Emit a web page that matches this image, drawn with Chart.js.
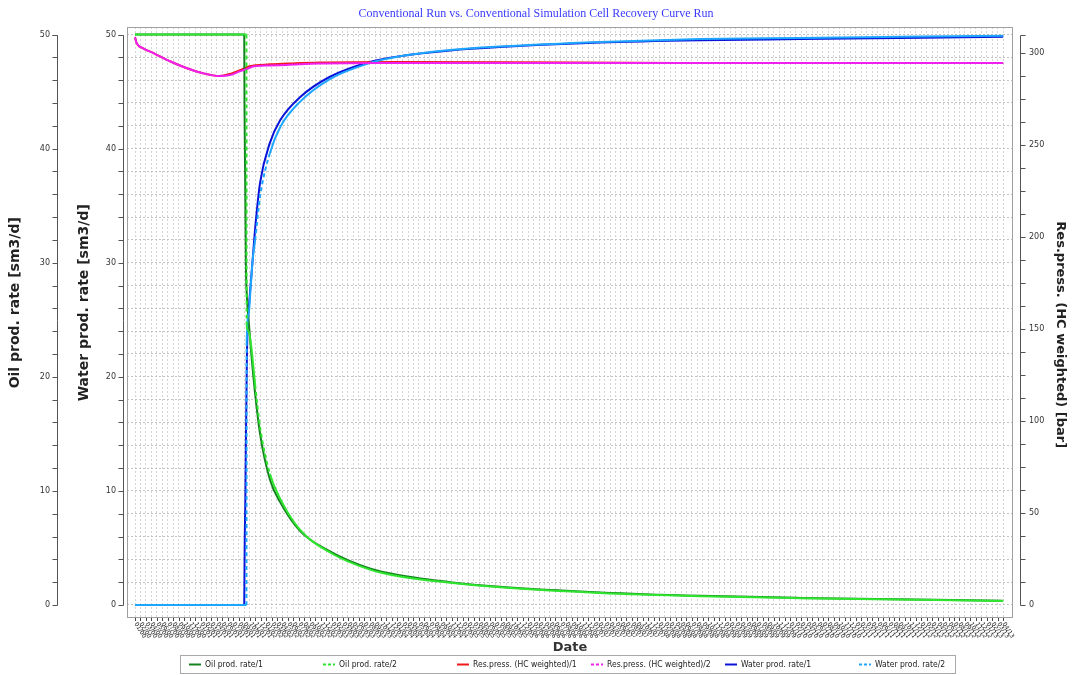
<!DOCTYPE html>
<html>
<head>
<meta charset="utf-8">
<script src="https://cdn.jsdelivr.net/npm/chart.js@4.4.1/dist/chart.umd.min.js"></script>
<style>
  html, body { margin: 0; padding: 0; background: #fff; }
  #wrap { width: 1072px; height: 675px; position: relative; }
</style>
</head>
<body>
<div id="wrap"><canvas id="c"></canvas></div>
<script>
// ---- time axis: one tick per report month ----
const firstYear = 2000;
const tickCount = 160;
const monthLabels = [];
for (let i = 0; i < tickCount; i++) {
  const m = (i % 12) + 1, y = firstYear + Math.floor(i / 12);
  monthLabels.push(String(m).padStart(2, '0') + '/' + String(y % 100).padStart(2, '0'));
}

// ---- Oil production rate [sm3/d] ----
const oil1Months = [0, 20.0, 20.05, 20.1, 20.2, 20.3, 20.5, 20.8, 21.3, 22.0, 22.9, 24.7, 26.6, 30.2, 35.7, 43.0, 48.5, 57.7, 66.8, 85.2, 103.5, 121.8, 159];
const oil1Rate   = [50, 50, 44, 41, 36, 30, 27, 25, 22, 18.5, 15, 11, 9, 6.5, 4.7, 3.2, 2.6, 2.0, 1.6, 1.1, 0.8, 0.62, 0.37];
const oil2Months = [0, 20.4, 20.45, 20.8, 21.3, 22.0, 22.9, 24.7, 26.6, 30.2, 35.7, 43.0, 48.5, 57.7, 66.8, 85.2, 103.5, 121.8, 159];
const oil2Rate   = [50, 50, 24.5, 24, 22.6, 19.3, 15.6, 11.5, 9.3, 6.6, 4.6, 3.1, 2.5, 1.95, 1.55, 1.05, 0.77, 0.6, 0.35];

// ---- Reservoir pressure, HC weighted [bar] ----
const pres1Months = [0, 0.3, 1.5, 3.3, 6.4, 9.5, 12.4, 15.5, 17.4, 19.2, 20.1, 21.0, 24.7, 27.8, 33.8, 48.4, 68, 100, 159];
const pres1Bar    = [308.5, 305.3, 302.5, 300, 295.5, 291.7, 289, 287.5, 288.6, 290.6, 291.8, 292.8, 293.8, 294.2, 294.8, 295.1, 295.0, 294.6, 294.6];
const pres2Months = [0, 0.3, 1.5, 3.3, 6.4, 9.5, 12.4, 15.5, 17.4, 19.2, 20.5, 21.6, 24.7, 27.8, 33.8, 48.4, 68, 100, 159];
const pres2Bar    = [308.5, 305.3, 302.5, 300, 295.5, 291.7, 289, 287.5, 288, 290, 291.3, 292.6, 293.2, 293.5, 294.2, 294.5, 294.6, 294.6, 294.6];

// ---- Water production rate [sm3/d] ----
const wat1Months = [0, 20.0, 20.05, 20.1, 20.2, 20.3, 20.4, 20.5, 20.7, 21.0, 21.5, 22.0, 22.9, 24.7, 26.6, 30.2, 35.7, 43.0, 48.5, 57.7, 66.8, 85.2, 103.5, 121.8, 159];
const wat1Rate   = [0, 0, 3, 6, 9, 14, 18, 22, 25, 27, 30, 33, 37, 40.5, 42.5, 44.5, 46.3, 47.6, 48.1, 48.6, 48.9, 49.3, 49.5, 49.6, 49.8];
const wat2Months = [0, 20.4, 20.45, 20.8, 21.2, 21.6, 22.0, 22.9, 24.7, 26.6, 30.2, 35.7, 43.0, 48.5, 57.7, 66.8, 85.2, 103.5, 121.8, 159];
const wat2Rate   = [0, 0, 23, 25.5, 28, 30.5, 32, 35.8, 39.6, 41.9, 44.1, 46.1, 47.5, 48.1, 48.65, 48.95, 49.35, 49.6, 49.7, 49.9];

// ---- axis ranges ----
const rateAxisTop = 50, rateMin = -1.14, rateMax = 50.66;
const presAxisTop = 310, presMin = -7.07, presMax = 314.1;
const monthMin = -1.47, monthMax = 160.8;

const pts = (xs, ys) => xs.map((x, i) => ({ x, y: ys[i] }));

// long near-vertical jumps of the second run show their dash pattern
const steepDash = ctx => {
  const dx = Math.abs(ctx.p1.x - ctx.p0.x), dy = Math.abs(ctx.p1.y - ctx.p0.y);
  return (dy > 40 && dy > 4 * dx) ? [4, 3] : undefined;
};

const seriesStyle = (label, color, dashed) => ({
  label, borderColor: color, backgroundColor: color, borderWidth: 2,
  pointRadius: 0, cubicInterpolationMode: 'monotone', fill: false,
  legendDash: dashed,
  segment: dashed ? { borderDash: steepDash } : undefined,
  order: dashed ? 0 : 1
});

const datasets = [
  Object.assign(seriesStyle('Oil prod. rate/1', '#14821e', false), { data: pts(oil1Months, oil1Rate), yAxisID: 'yOil' }),
  Object.assign(seriesStyle('Oil prod. rate/2', '#2fe52f', true), { data: pts(oil2Months, oil2Rate), yAxisID: 'yOil' }),
  Object.assign(seriesStyle('Res.press. (HC weighted)/1', '#f01818', false), { data: pts(pres1Months, pres1Bar), yAxisID: 'yP' }),
  Object.assign(seriesStyle('Res.press. (HC weighted)/2', '#f020f0', true), { data: pts(pres2Months, pres2Bar), yAxisID: 'yP' }),
  Object.assign(seriesStyle('Water prod. rate/1', '#0a14d8', false), { data: pts(wat1Months, wat1Rate), yAxisID: 'y' }),
  Object.assign(seriesStyle('Water prod. rate/2', '#1ea6ff', true), { data: pts(wat2Months, wat2Rate), yAxisID: 'y' })
];

const tickFont = { family: 'DejaVu Sans', size: 8 };

function evenTicks(step, top) {
  return scale => {
    const t = [];
    for (let v = 0; v <= top + 1e-9; v += step) t.push({ value: v });
    scale.ticks = t;
  };
}

// frame round the plot area
const plotFrame = {
  id: 'plotFrame',
  afterDatasetsDraw(chart) {
    const { ctx, chartArea: a } = chart;
    ctx.save();
    ctx.strokeStyle = '#a0a0a0';
    ctx.lineWidth = 1;
    ctx.strokeRect(Math.round(a.left) + 0.5, Math.round(a.top) + 0.5, Math.round(a.right - a.left) - 1, Math.round(a.bottom - a.top) - 1);
    ctx.restore();
  }
};

// vertical axis lines with their tick marks
const axisLines = {
  id: 'axisLines',
  afterDraw(chart) {
    const ctx = chart.ctx;
    ctx.save();
    ctx.strokeStyle = '#555';
    ctx.lineWidth = 1;
    const defs = [['yOil', rateAxisTop, -1], ['y', rateAxisTop, -1], ['yP', presAxisTop, 1]];
    for (const [id, top, side] of defs) {
      const s = chart.scales[id];
      const x = Math.round(side < 0 ? s.right - 4 : s.left + 7) + 0.5;
      const y0 = s.getPixelForValue(0), y1 = s.getPixelForValue(top);
      ctx.beginPath();
      ctx.moveTo(x, Math.round(y0) + 0.5);
      ctx.lineTo(x, Math.round(y1) + 0.5);
      const marks = s.ticks.map(t => t.value).concat([top]);
      for (const v of marks) {
        const y = Math.round(s.getPixelForValue(v)) + 0.5;
        ctx.moveTo(x, y);
        ctx.lineTo(x + side * 5, y);
      }
      ctx.stroke();
    }
    ctx.restore();
  }
};

// rotated titles of the three value axes
const axisTitles = {
  id: 'axisTitles',
  afterDraw(chart) {
    const ctx = chart.ctx;
    const mid = chart.scales.y.getPixelForValue(rateAxisTop / 2);
    const items = [
      { scale: 'yOil', text: 'Oil prod. rate [sm3/d]', dx: 15, dy: -17, size: 14, rot: -90 },
      { scale: 'y', text: 'Water prod. rate [sm3/d]', dx: 23, dy: -17, size: 14, rot: -90 },
      { scale: 'yP', text: 'Res.press. (HC weighted) [bar]', dx: 47, dy: 15, size: 13, rot: 90 }
    ];
    ctx.save();
    ctx.fillStyle = '#222';
    ctx.textAlign = 'center';
    ctx.textBaseline = 'middle';
    for (const it of items) {
      const s = chart.scales[it.scale];
      ctx.save();
      ctx.font = 'bold ' + it.size + 'px "DejaVu Sans"';
      ctx.translate(s.left + it.dx, mid + it.dy);
      ctx.rotate(it.rot * Math.PI / 180);
      ctx.fillText(it.text, 0, 0);
      ctx.restore();
    }
    ctx.restore();
  }
};

// slanted date labels under the time axis
const dateLabels = {
  id: 'dateLabels',
  afterDraw(chart) {
    const { ctx, chartArea: a } = chart;
    const s = chart.scales.x;
    ctx.save();
    ctx.strokeStyle = '#444';
    ctx.fillStyle = '#1a1a1a';
    ctx.lineWidth = 1;
    ctx.font = '6px "DejaVu Sans"';
    ctx.textBaseline = 'middle';
    ctx.textAlign = 'left';
    s.ticks.forEach((t, i) => {
      const x = Math.round(s.getPixelForValue(t.value)) + 0.5;
      ctx.beginPath();
      ctx.moveTo(x, a.bottom);
      ctx.lineTo(x, a.bottom + 3);
      ctx.stroke();
      ctx.save();
      ctx.translate(x, a.bottom + 5);
      ctx.rotate(58 * Math.PI / 180);
      ctx.fillText(monthLabels[i], 0, 0);
      ctx.restore();
    });
    ctx.restore();
  }
};

// boxed legend row at the foot
const footLegend = {
  id: 'footLegend',
  afterDraw(chart) {
    const ctx = chart.ctx;
    const left = 180, top = 655, width = 775, height = 18;
    ctx.save();
    ctx.fillStyle = '#fff';
    ctx.fillRect(left, top, width, height);
    ctx.strokeStyle = '#a8a8a8';
    ctx.lineWidth = 1;
    ctx.strokeRect(left + 0.5, top + 0.5, width, height);
    ctx.font = '8.5px "DejaVu Sans Condensed", "DejaVu Sans"';
    ctx.textBaseline = 'middle';
    ctx.textAlign = 'left';
    const step = 134;
    chart.data.datasets.forEach((ds, i) => {
      const x = 189 + i * step, y = top + height / 2 + 0.5;
      ctx.strokeStyle = ds.borderColor;
      ctx.lineWidth = 2;
      ctx.setLineDash(ds.legendDash ? [3, 2] : []);
      ctx.beginPath();
      ctx.moveTo(x, y);
      ctx.lineTo(x + 12, y);
      ctx.stroke();
      ctx.setLineDash([]);
      ctx.fillStyle = '#222';
      ctx.fillText(ds.label, x + 16, y);
    });
    ctx.restore();
  }
};

new Chart(document.getElementById('c'), {
  type: 'line',
  data: { datasets },
  plugins: [plotFrame, axisLines, axisTitles, dateLabels, footLegend],
  options: {
    responsive: true,
    maintainAspectRatio: false,
    animation: false,
    devicePixelRatio: 1,
    layout: { padding: { left: 0, right: 0, top: 0, bottom: 21 } },
    plugins: {
      legend: { display: false },
      tooltip: { enabled: false },
      title: {
        display: true,
        text: 'Conventional Run vs. Conventional Simulation Cell Recovery Curve Run',
        color: '#3a3aff',
        font: { family: 'Liberation Serif', size: 12, weight: 'normal' },
        padding: { top: 7, bottom: 5.6 }
      }
    },
    scales: {
      x: {
        type: 'linear',
        min: monthMin, max: monthMax,
        afterBuildTicks: evenTicks(1, tickCount - 1),
        afterFit: s => { s.height = 36; },
        ticks: { display: false },
        grid: { display: true, drawTicks: false, color: '#d4d4d4', lineWidth: 1 },
        border: { display: false, dash: [2, 2] },
        title: { display: true, text: 'Date', color: '#333', font: { family: 'DejaVu Sans', size: 13, weight: 'bold' }, padding: { top: 0, bottom: -1 } }
      },
      yOil: {
        type: 'linear', position: 'left', weight: 2,
        min: rateMin, max: rateMax,
        afterBuildTicks: evenTicks(2, rateAxisTop),
        afterFit: s => { s.width = 61; },
        ticks: { font: tickFont, color: '#333', padding: 3, autoSkip: false,
                 callback: v => (v % 10 === 0 ? String(v) : '') },
        grid: { display: false },
        border: { display: false }
      },
      y: {
        type: 'linear', position: 'left', weight: 1,
        min: rateMin, max: rateMax,
        afterBuildTicks: evenTicks(2, rateAxisTop),
        afterFit: s => { s.width = 66; },
        ticks: { font: tickFont, color: '#333', padding: 11, autoSkip: false,
                 callback: v => (v % 10 === 0 ? String(v) : '') },
        grid: { display: true, drawTicks: false, color: '#c2c2c2', lineWidth: 1 },
        border: { display: false, dash: [2, 2] }
      },
      yP: {
        type: 'linear', position: 'right',
        min: presMin, max: presMax,
        afterBuildTicks: evenTicks(12.5, 300),
        afterFit: s => { s.width = 59; },
        ticks: { font: tickFont, color: '#333', padding: 8, autoSkip: false,
                 callback: v => (v % 50 === 0 ? String(v) : '') },
        grid: { display: false },
        border: { display: false }
      }
    }
  }
});
</script>
</body>
</html>
